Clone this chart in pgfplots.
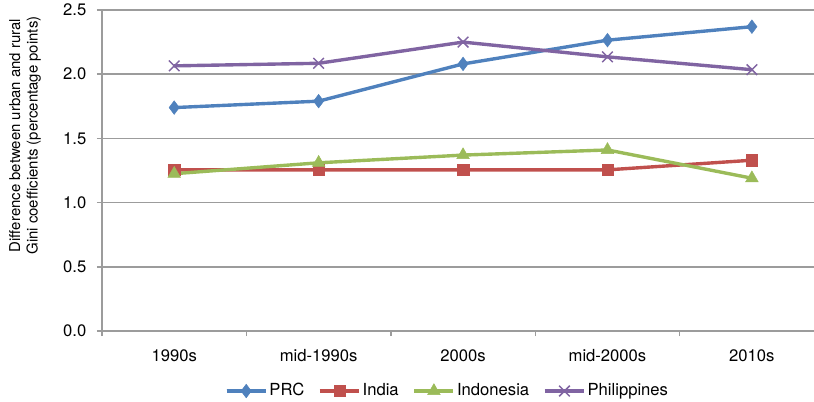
\documentclass[border=0pt]{standalone}
\usepackage{pgfplots}
\pgfplotsset{compat=1.18}
\usepackage{fontspec}
\setmainfont{TeX Gyre Heros}
\definecolor{cPRC}{HTML}{4F81BD}
\definecolor{cInd}{HTML}{C0504D}
\definecolor{cIdn}{HTML}{9BBB59}
\definecolor{cPhl}{HTML}{8064A2}
\definecolor{gridc}{HTML}{9C9C9C}
\begin{document}
\begin{tikzpicture}[x=1bp,y=1bp]
\fontsize{16.7}{19}\selectfont
\begin{axis}[
  at={(102bp,71bp)}, anchor=south west,
  scale only axis, width=712bp, height=321bp,
  xmin=-0.5, xmax=4.43, ymin=0, ymax=2.5,
  xtick={0,1,2,3,4},
  xticklabels={1990s,mid-1990s,2000s,mid-2000s,2010s},
  major x tick style={draw=none},
  minor xtick={-0.5,0.5,1.5,2.5,3.5},
  minor tick length=5bp,
  ytick={0,0.5,1,1.5,2,2.5},
  major tick length=5bp,
  tick align=outside,
  /pgf/number format/.cd,fixed,fixed zerofill,precision=1,assume math mode=true,
  /pgfplots/.cd,
  ticklabel style={font=\fontsize{16.7}{19}\selectfont},
  xticklabel style={yshift=-8bp},
  yticklabel style={xshift=-5bp},
  ymajorgrids, grid style={gridc, line width=1.5pt},
  axis x line*=bottom, axis y line*=left,
  axis line style={gridc, line width=1.5pt, -},
  tick style={gridc, line width=1.5pt},
  ylabel={Difference between urban and rural\\Gini coefficients (percentage points)},
  ylabel style={align=center, font=\fontsize{15}{17.5}\selectfont, at={(rel axis cs:0,0.5)}, anchor=center, yshift=77bp, xshift=35bp},
  legend columns=4,
  legend style={draw=none, at={(0.4853,-0.187)}, anchor=center, font=\fontsize{16.7}{19}\selectfont,
    /tikz/every even column/.append style={column sep=12bp}},
  legend image code/.code={\draw[#1] (0bp,0bp) -- (39bp,0bp); \draw[#1, mark repeat=2, mark phase=2] plot coordinates {(0bp,0bp) (19.5bp,0bp) (39bp,0bp)};},
  every axis plot/.append style={line width=3.4pt},
]
\addplot[cPRC, mark=diamond*, mark size=6.8bp, mark options={line width=0.5pt}] coordinates {(0,1.74) (1,1.79) (2,2.08) (3,2.265) (4,2.37)};
\addlegendentry{PRC}
\addplot[cInd, mark=square*, mark size=5.7bp, mark options={line width=0.5pt}] coordinates {(0,1.255) (1,1.255) (2,1.255) (3,1.255) (4,1.33)};
\addlegendentry{India}
\addplot[cIdn, mark=triangle*, mark size=7.3bp, mark options={line width=0.5pt}] coordinates {(0,1.225) (1,1.31) (2,1.37) (3,1.41) (4,1.19)};
\addlegendentry{Indonesia}
\addplot[cPhl, mark=x, mark size=7.5bp, mark options={line width=1.5pt}] coordinates {(0,2.065) (1,2.085) (2,2.25) (3,2.135) (4,2.035)};
\addlegendentry{Philippines}
\end{axis}
\pgfresetboundingbox
\path[use as bounding box] (0,0) rectangle (814bp,402bp);
\end{tikzpicture}
\end{document}
